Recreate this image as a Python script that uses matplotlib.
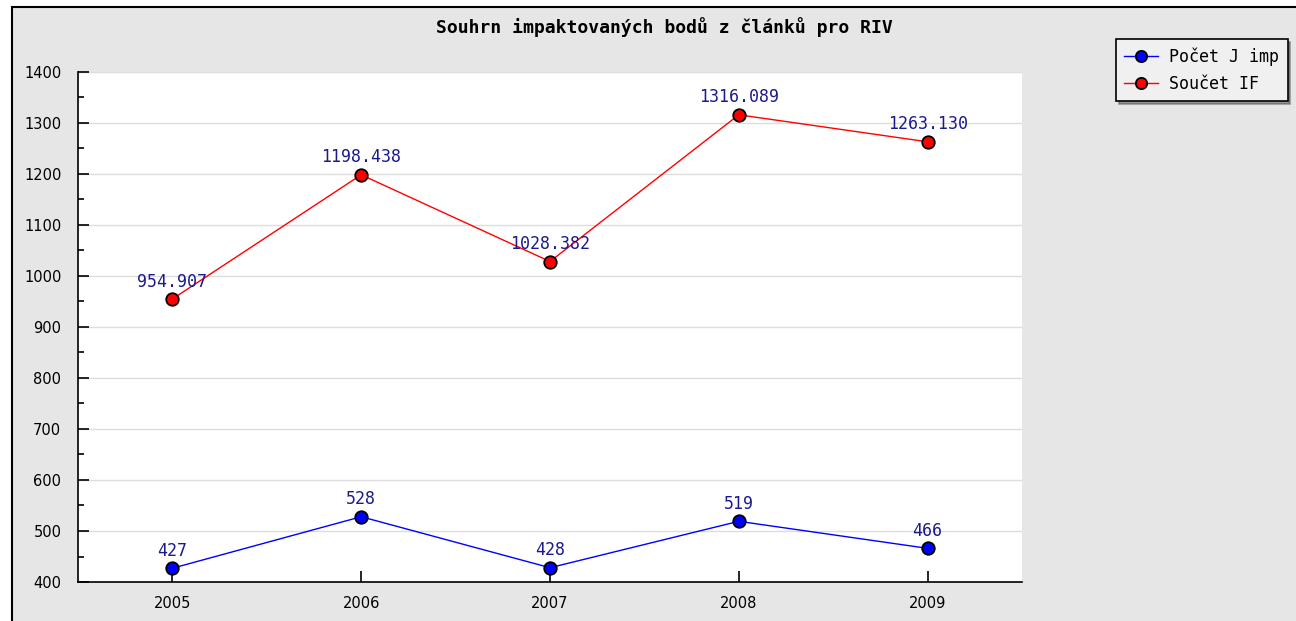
import matplotlib
matplotlib.use("Agg")
import matplotlib.pyplot as plt
from matplotlib.patches import Rectangle
from matplotlib.ticker import MultipleLocator

years = ["2005", "2006", "2007", "2008", "2009"]
pocet_j_imp = [427, 528, 428, 519, 466]
soucet_if = [954.907, 1198.438, 1028.382, 1316.089, 1263.130]
soucet_labels = ["954.907", "1198.438", "1028.382", "1316.089", "1263.130"]
title = "Souhrn impaktovaných bodů z článků pro RIV"

W, H = 1296, 621
fig = plt.figure(figsize=(W / 100, H / 100), dpi=100)
fig.patch.set_facecolor("white")
bg = Rectangle((12 / W, -0.1), 1.2, (H - 7) / H + 0.1, transform=fig.transFigure,
               facecolor="#e6e6e6", edgecolor="black", linewidth=1.5, zorder=-10)
fig.patches.append(bg)

ax = fig.add_axes([78 / W, 1 - 582 / H, (1022 - 78) / W, (582 - 72) / H])
ax.set_facecolor("white")
x = list(range(len(years)))

ax.plot(x, pocet_j_imp, color="blue", linewidth=1, marker="o", markersize=9,
        markerfacecolor="blue", markeredgecolor="black", markeredgewidth=1.3,
        label="Počet J imp", zorder=3)
ax.plot(x, soucet_if, color="red", linewidth=1, marker="o", markersize=9,
        markerfacecolor="red", markeredgecolor="black", markeredgewidth=1.3,
        label="Součet IF", zorder=3)

lab_kw = dict(textcoords="offset points", ha="center", va="bottom",
              color="#1a1a8c", fontsize=12, family="DejaVu Sans Mono")
for xi, v in zip(x, pocet_j_imp):
    ax.annotate(str(v), (xi, v), xytext=(0, 6), **lab_kw)
for xi, v, s in zip(x, soucet_if, soucet_labels):
    ax.annotate(s, (xi, v), xytext=(0, 6), **lab_kw)

ax.set_xlim(-0.5, 4.5)
ax.set_ylim(400, 1400)
ax.set_xticks(x)
ax.set_xticklabels(years)
ax.yaxis.set_major_locator(MultipleLocator(100))
ax.yaxis.set_minor_locator(MultipleLocator(50))
ax.grid(axis="y", which="major", color="#dddddd", linewidth=1)
ax.set_axisbelow(True)
ax.tick_params(axis="both", which="major", direction="in", length=8, width=1.2,
               labelsize=10.5, colors="black")
ax.tick_params(axis="y", which="minor", direction="in", length=4, width=1.2)
ax.tick_params(axis="y", pad=12)
ax.tick_params(axis="x", pad=10)
for side in ["top", "right"]:
    ax.spines[side].set_visible(False)
for side in ["left", "bottom"]:
    ax.spines[side].set_linewidth(1.2)

fig.text(664 / W, 1 - 27 / H, title, ha="center", va="center", fontsize=13,
         fontweight="bold", family="DejaVu Sans Mono")

leg = fig.legend(loc="upper left", bbox_to_anchor=(1116 / W, 1 - 39 / H),
                 prop={"family": "DejaVu Sans Mono", "size": 12},
                 frameon=True, fancybox=False, shadow=True,
                 handlelength=2.0, borderpad=0.5, labelspacing=0.55,
                 handletextpad=0.7, markerscale=0.9, borderaxespad=0)
leg.get_frame().set_edgecolor("black")
leg.get_frame().set_facecolor("#f0f0f0")
leg.get_frame().set_linewidth(1.2)

fig.savefig("out.png", dpi=100)
